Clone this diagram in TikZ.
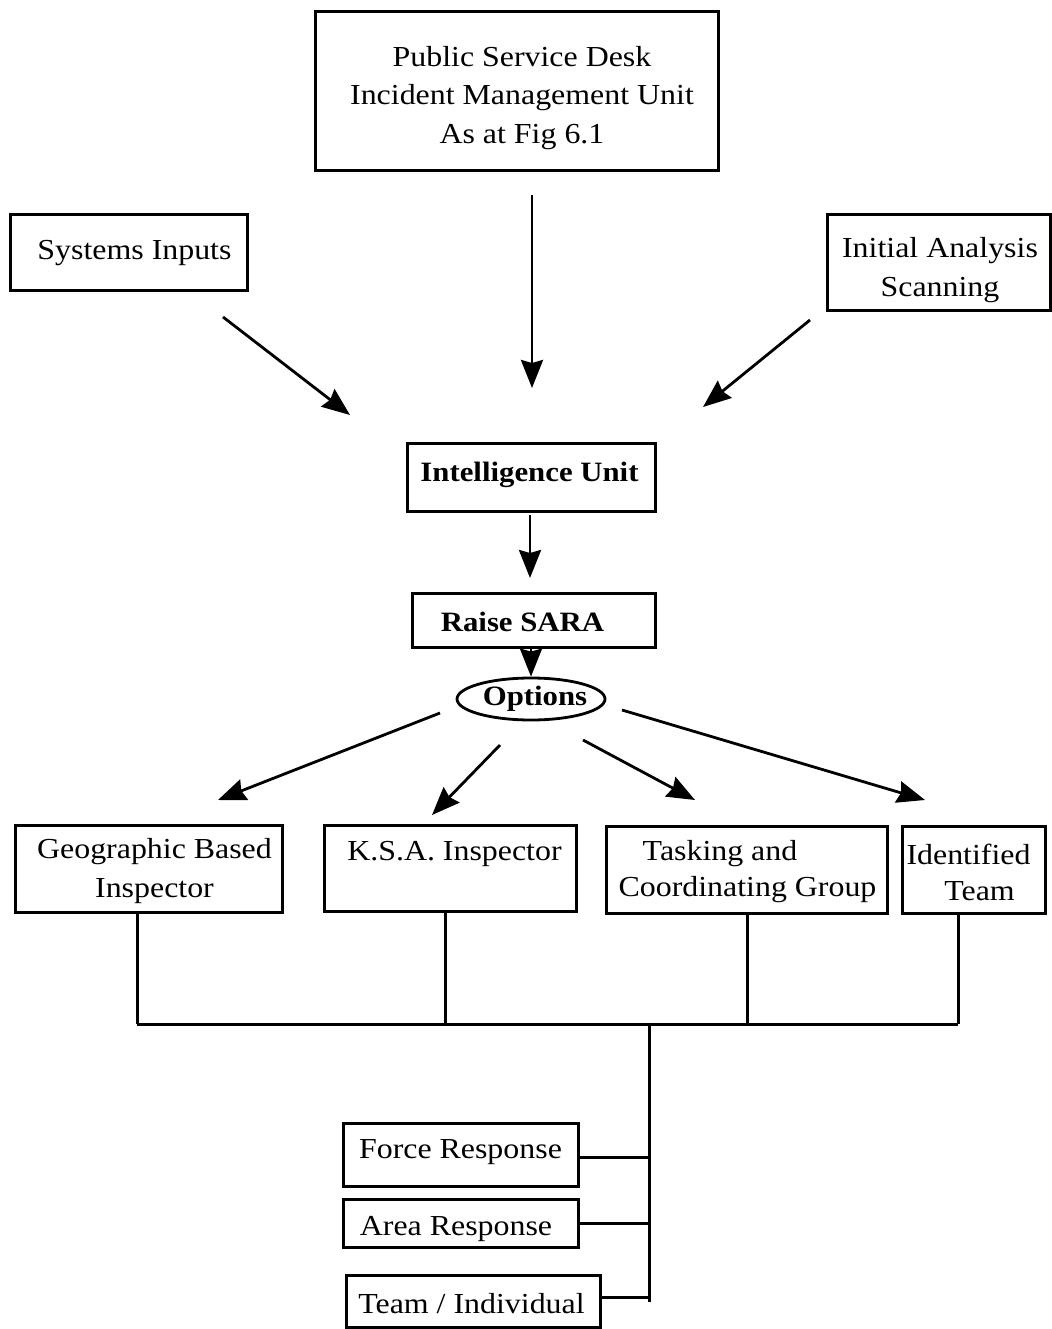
\documentclass[tikz,border=0pt]{standalone}
\usepackage{fontspec}
\setmainfont{Liberation Serif}[FakeStretch=1.1]
\usetikzlibrary{arrows.meta,shapes.geometric}
\tikzset{
  boxnode/.style={draw, line width=3pt, inner sep=0pt, minimum width=#1},
  txt/.style={inner sep=0pt, align=center, font=\fontsize{29}{38.5}\selectfont},
  btxt/.style={inner sep=0pt, align=center, font=\fontsize{28}{36}\selectfont\bfseries},
  arr/.style={line width=2.8pt, -{Stealth[length=28pt,width=22pt,inset=3pt]}},
  tree/.style={line width=3pt}
}
\begin{document}
\begin{tikzpicture}[x=1pt,y=-1pt]
\useasboundingbox (0,0) rectangle (1051,1329);
% boxes
\node[boxnode=403pt, minimum height=159pt] (top) at (516.5,91.5) {};
\node[boxnode=237pt, minimum height=76pt] (sys) at (128.5,253) {};
\node[boxnode=223pt, minimum height=95pt] (ini) at (938.5,262.5) {};
\node[boxnode=248pt, minimum height=68pt] (intel) at (531,477) {};
\node[boxnode=243pt, minimum height=54pt] (sara) at (533.5,620) {};
\node[draw, ellipse, line width=2.8pt, inner sep=0pt, minimum width=148pt, minimum height=42pt] (opt) at (531,699) {};
\node[boxnode=267pt, minimum height=87pt] (geo) at (148.5,868.5) {};
\node[boxnode=252pt, minimum height=86pt] (ksa) at (450,868) {};
\node[boxnode=281pt, minimum height=87pt] (task) at (746.5,869.5) {};
\node[boxnode=143pt, minimum height=87pt] (ident) at (973.5,869.5) {};
\node[boxnode=235pt, minimum height=63pt] (force) at (460.5,1154.5) {};
\node[boxnode=235pt, minimum height=48pt] (area) at (460.5,1223) {};
\node[boxnode=254pt, minimum height=52pt] (team) at (473,1301) {};
% texts
\node[txt] (ttop) at (522,98) {Public Service Desk\\Incident Management Unit\\As at Fig 6.1};
\node[txt] (tsys) at (134.5,253) {Systems Inputs};
\node[txt] (tini) at (940,270) {Initial Analysis\\Scanning};
\node[btxt] (tintel) at (529.5,475) {Intelligence Unit};
\node[btxt] (tsara) at (522.5,622) {Raise SARA};
\node[btxt] (topt) at (535,699) {Options};
\node[txt] (tgeo) at (154.5,871) {Geographic Based\\Inspector};
\node[txt] (tksa) at (454.5,854) {K.S.A. Inspector};
\node[txt] (ttask1) at (720,854) {Tasking and};
\node[txt] (ttask2) at (747.5,890) {Coordinating Group};
\node[txt] (tident1) at (968.5,854) {Identified};
\node[txt] (tident2) at (979.5,891) {Team};
\node[txt] (tforce) at (460.5,1152) {Force Response};
\node[txt] (tarea) at (456,1229) {Area Response};
\node[txt] (tteam) at (471.5,1304) {Team / Individual};
% arrow end points
\coordinate (a1s) at (532,195);  \coordinate (a1e) at (532,388);
\coordinate (a2s) at (223,317);  \coordinate (a2e) at (350,415);
\coordinate (a3s) at (810,320);  \coordinate (a3e) at (703,407);
\coordinate (a4s) at (530,515);  \coordinate (a4e) at (530,578);
\coordinate (o1s) at (440,713);  \coordinate (o1e) at (218,800);
\coordinate (o2s) at (500,745);  \coordinate (o2e) at (432,815);
\coordinate (o3s) at (583,740);  \coordinate (o3e) at (695,800);
\coordinate (o4s) at (622,710);  \coordinate (o4e) at (925,800);
% arrows
\draw[arr] (a1s) -- (a1e);
\draw[arr] (a2s) -- (a2e);
\draw[arr] (a3s) -- (a3e);
\draw[arr] (a4s) -- (a4e);
\draw[arr] (sara.south -| opt.north) -- (opt.north);
\draw[arr] (o1s) -- (o1e);
\draw[arr] (o2s) -- (o2e);
\draw[arr] (o3s) -- (o3e);
\draw[arr] (o4s) -- (o4e);
% tree
\coordinate (bg) at (137,1024);
\coordinate (bk) at (445,1024);
\coordinate (bt) at (747,1024);
\coordinate (bi) at (958,1024);
\coordinate (bm) at (649,1024);
\coordinate (vend) at (649,1302);
\draw[tree] (geo.south -| bg) -- (bg);
\draw[tree] (ksa.south -| bk) -- (bk);
\draw[tree] (task.south -| bt) -- (bt);
\draw[tree] (ident.south -| bi) -- (bi);
\draw[tree] (bg) -- (bi);
\draw[tree] (bm) -- (vend);
\draw[tree] (force.east |- 0,1157) -- (649,1157);
\draw[tree] (area.east) -- (area.east -| vend);
\draw[tree] (team.east |- 0,1297) -- (649,1297);
\end{tikzpicture}
\end{document}
